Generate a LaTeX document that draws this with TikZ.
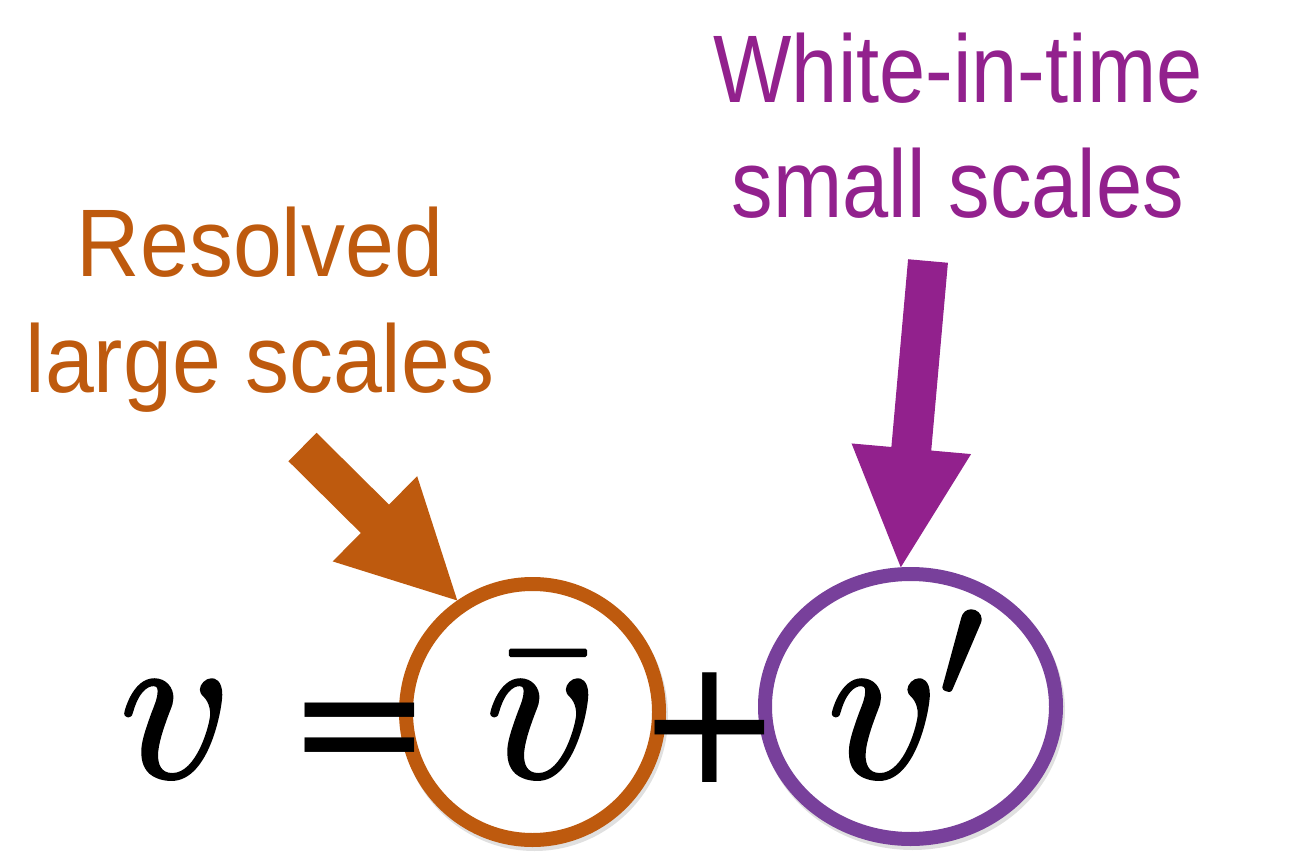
\RequirePackage{fix-cm}
\documentclass[tikz,border=0pt]{standalone}
\usepackage{amsmath}
\usepackage{graphicx}
\usepackage{fontspec}
\setmainfont{Liberation Sans}
\newfontfamily\opfont{DejaVu Sans}
\usetikzlibrary{calc,shapes.geometric}
\definecolor{resorange}{HTML}{BE5A0E}
\definecolor{wpurple}{HTML}{92218D}
\definecolor{epurple}{HTML}{78409B}
\newcommand\blockarrow[4]{% tail, tip, colour, head length
  \coordinate (hb) at ($(#2)!#4!(#1)$);
  \fill[#3] ($(#1)!20pt!90:(#2)$) -- ($(hb)!20pt!90:(#2)$) -- ($(hb)!60pt!90:(#2)$)
    -- (#2) -- ($(hb)!60pt!-90:(#2)$) -- ($(hb)!20pt!-90:(#2)$) -- ($(#1)!20pt!-90:(#2)$) -- cycle;}
\newcommand\narrowlines[2]{\scalebox{#1}[1]{\begin{tabular}[b]{@{}c@{}}#2\end{tabular}}}
\newcommand\heavy[1]{\special{pdf:literal direct 2 Tr 3.5 w 1 j}#1\special{pdf:literal direct 0 Tr}}
\tikzset{
  lbl/.style={inner sep=0pt, anchor=base, font=\fontsize{96}{115.5}\selectfont},
  mathsym/.style={inner sep=0pt, anchor=base, font=\fontsize{220}{250}\selectfont},
  opsym/.style={inner sep=0pt, anchor=base, font=\fontsize{175}{200}\selectfont\opfont},
  ring/.style={ellipse, line width=14pt, inner sep=0pt, fill=white},
  shade/.style={ellipse, line width=14pt, inner sep=0pt, draw=black, opacity=0.12},
}
\begin{document}
\begin{tikzpicture}[x=1pt,y=-1pt]
\useasboundingbox (0,0) rectangle (1299,861);
% soft shadows
\node[shade, minimum width=253pt, minimum height=256pt] at (534.5,716) {};
\node[shade, minimum width=291pt, minimum height=265pt] at (912.5,710.5) {};
% rings
\node[ring, draw=resorange, minimum width=253pt, minimum height=256pt] (vb) at (532.5,712) {};
\node[ring, draw=epurple, minimum width=291pt, minimum height=265pt] (vp) at (910.5,706.5) {};
% equation
\node[mathsym] (v) at (176,777) {\heavy{$v$}};
\node[opsym] (eq) at (359.5,782) {=};
\node[mathsym] (vbar) at (542,777) {\heavy{$\bar v$}};
\node[opsym] (plus) at (709.5,782) {+};
\node[mathsym] (vprime) at (905,777) {\heavy{$v'$}};
% labels
\node[lbl, text=resorange] (res) at (260,392) {\narrowlines{0.915}{Resolved\\large scales}};
\node[lbl, text=wpurple] (wit) at (958,218) {\narrowlines{0.865}{White-in-time\\small scales}};
% arrows
\coordinate (otail) at (302.5,447);
\coordinate (ptail) at (928,261);
\blockarrow{otail}{vb.124}{resorange}{116pt}
\blockarrow{ptail}{vp.94}{wpurple}{119pt}
\end{tikzpicture}
\end{document}
